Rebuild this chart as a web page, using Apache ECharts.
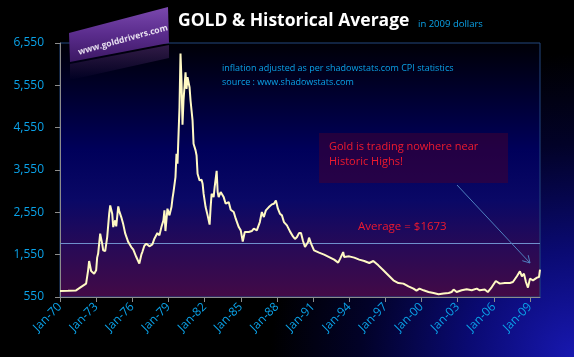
<!DOCTYPE html>
<html>
<head>
<meta charset="utf-8">
<script src="https://cdn.jsdelivr.net/npm/echarts@6/dist/echarts.min.js"></script>
<style>
html,body{margin:0;padding:0;background:#000;}
#c{width:574px;height:357px;}
</style>
</head>
<body>
<div id="c"></div>
<script>
// Months since Jan-1970 and gold price in 2009 dollars
const months = [0,8,16,20,26,28,29,31,34,36,37,38,40,42,43,45,47,49,50,52,53,55,56,58,59,61,63,65,68,71,73,76,79,81,82,84,86,87,89,92,94,97,99,101,103,104,105,107,109,111,112,113,115,116,117,119,120,121,122,123,125,126,127,129,130,132,133,135,136,137,139,141,142,143,145,147,149,150,151,153,154,156,157,158,160,163,165,168,170,173,175,178,180,182,184,188,191,193,196,199,201,203,205,208,211,213,215,217,219,221,223,226,229,232,234,236,238,240,242,244,247,248,250,253,258,263,268,273,277,279,282,283,288,293,298,303,308,312,317,322,327,332,337,342,347,352,355,358,362,367,372,377,382,387,390,392,395,400,405,410,415,418,423,426,430,434,438,443,448,451,455,458,460,462,464,466,468,471,475,477,478];
const gold = [690,695,705,770,866,1180,1400,1163,1100,1180,1480,1575,2046,1810,1652,1635,1966,2518,2714,2518,2202,2360,2218,2690,2580,2438,2266,2046,1848,1730,1668,1494,1338,1550,1612,1760,1810,1841,1747,1794,1928,2060,2006,2202,2360,2596,2108,2636,2478,2674,2872,3028,3382,3935,3698,5034,6300,5664,4620,5192,5860,5467,5742,5506,5192,4720,4170,4013,3894,3462,3304,3320,3226,2990,2674,2478,2260,2674,2990,2910,3146,3530,3028,2910,3028,2910,2754,2793,2612,2557,2400,2202,2124,1860,2085,2085,2108,2164,2124,2320,2557,2438,2596,2674,2738,2754,2832,2636,2518,2478,2320,2242,2100,1980,1920,1966,2060,2060,1872,1730,1848,1952,1810,1652,1598,1550,1494,1433,1362,1456,1612,1494,1510,1480,1433,1400,1353,1400,1298,1180,1062,944,880,866,802,748,700,748,708,668,644,614,630,644,668,725,668,708,732,708,748,708,725,668,786,928,866,880,880,904,1039,1157,1039,1102,904,772,984,944,1008,1022,1197];
const xTickMonths = [0,36,72,108,144,180,216,252,288,324,360,396,432,468];
const xTickLabels = ['Jan-70','Jan-73','Jan-76','Jan-79','Jan-82','Jan-85','Jan-88','Jan-91','Jan-94','Jan-97','Jan-00','Jan-03','Jan-06','Jan-09'];
const yTicks = [550,1550,2550,3550,4550,5550,6550];
const averageLevel = 1825;
const averageText = 'Average = $1673';

const chart = echarts.init(document.getElementById('c'), null, {renderer:'canvas'});
const cyan = '#0aa2e8';
const font = "'Open Sans', 'Noto Sans', sans-serif";

const option = {
  animation: false,
  backgroundColor: 'transparent',
  grid: {
    left: 60, right: 34, top: 43, bottom: 60,
    show: true,
    borderColor: '#23467e',
    borderWidth: 1,
    backgroundColor: {
      type: 'linear', x: 0, y: 0, x2: 0, y2: 1,
      colorStops: [
        {offset: 0, color: '#000006'},
        {offset: 0.42, color: '#00005a'},
        {offset: 0.62, color: '#0a0866'},
        {offset: 0.82, color: '#2a0a55'},
        {offset: 1, color: '#430a46'}
      ]
    }
  },
  xAxis: {
    type: 'value',
    min: 0, max: 478,
    axisLine: {show: true, lineStyle: {color: '#8c8c8c', width: 1}},
    axisTick: {show: true, length: 5, lineStyle: {color: '#8c8c8c'}, customValues: xTickMonths},
    splitLine: {show: false},
    axisLabel: {
      customValues: xTickMonths,
      rotate: 45,
      margin: 8,
      color: cyan,
      fontFamily: font,
      fontSize: 12,
      formatter: v => xTickLabels[xTickMonths.indexOf(v)] || ''
    }
  },
  yAxis: {
    type: 'value',
    min: 550, max: 6550,
    axisLine: {show: true, lineStyle: {color: '#8c8c8c', width: 1}},
    axisTick: {show: true, length: 5, lineStyle: {color: '#8c8c8c'}, customValues: yTicks},
    splitLine: {show: false},
    axisLabel: {
      customValues: yTicks,
      margin: 16,
      color: cyan,
      fontFamily: font,
      fontSize: 12,
      formatter: v => v.toLocaleString('en-US')
    }
  },
  series: [{
    type: 'line',
    data: months.map((m, i) => [m, gold[i]]),
    showSymbol: false,
    lineStyle: {color: '#fff9c4', width: 2},
    z: 5,
    markLine: {
      silent: true,
      symbol: 'none',
      label: {show: false},
      lineStyle: {color: '#6f8fcc', width: 1, type: 'solid'},
      data: [{yAxis: averageLevel}]
    }
  }],
  graphic: [
    {
      type: 'rect', z: -100, silent: true,
      shape: {x: 0, y: 0, width: 574, height: 357},
      style: {
        fill: {
          type: 'radial', x: 1, y: 1, r: 0.85,
          colorStops: [
            {offset: 0, color: '#1818b0'},
            {offset: 0.35, color: '#0a0a72'},
            {offset: 0.7, color: '#020228'},
            {offset: 1, color: '#000000'}
          ]
        }
      }
    },
    {
      type: 'polygon', z: 10, silent: true,
      shape: {points: [[70,64],[169,45],[169,58],[70,80]]},
      style: {
        fill: {
          type: 'linear', x: 0, y: 0, x2: 0, y2: 1,
          colorStops: [{offset: 0, color: 'rgba(110,60,150,0.45)'}, {offset: 1, color: 'rgba(110,60,150,0)'}]
        }
      }
    },
    {
      type: 'polygon', z: 11, silent: true,
      shape: {points: [[69,33],[168,7],[169,43],[70,62]]},
      style: {
        fill: {
          type: 'linear', x: 0, y: 0, x2: 0, y2: 1,
          colorStops: [{offset: 0, color: '#7a48ae'}, {offset: 0.5, color: '#5a2c8c'}, {offset: 1, color: '#3c1864'}]
        }
      }
    },
    {
      type: 'text', z: 12, silent: true,
      x: 123, y: 40, rotation: 0.27,
      style: {
        text: 'www.golddrivers.com',
        fill: '#e8e0f0',
        font: "bold 8.5px 'Open Sans', sans-serif",
        align: 'center', verticalAlign: 'middle'
      }
    },
    {
      type: 'text', z: 12, silent: true,
      left: 178, top: 12,
      style: {
        text: 'GOLD & Historical Average',
        fill: '#ffffff',
        font: "bold 17.5px 'Open Sans', sans-serif"
      }
    },
    {
      type: 'text', z: 12, silent: true,
      left: 418, top: 19,
      style: {text: 'in 2009 dollars', fill: cyan, font: "9.5px 'Open Sans', sans-serif"}
    },
    {
      type: 'text', z: 12, silent: true,
      left: 222, top: 61,
      style: {
        text: 'inflation adjusted as per shadowstats.com CPI statistics\nsource : www.shadowstats.com',
        fill: cyan, font: "9px 'Open Sans', sans-serif", lineHeight: 14
      }
    },
    {
      type: 'rect', z: 8, silent: true,
      shape: {x: 319, y: 133, width: 189, height: 50},
      style: {fill: 'rgba(70,0,45,0.5)'}
    },
    {
      type: 'text', z: 12, silent: true,
      left: 329, top: 139,
      style: {
        text: 'Gold is trading nowhere near\nHistoric Highs!',
        fill: '#f01a2e', font: "11px 'Open Sans', sans-serif", lineHeight: 15.5
      }
    },
    {
      type: 'text', z: 12, silent: true,
      left: 358, top: 221,
      style: {text: averageText, fill: '#f01a2e', font: "11.5px 'Open Sans', sans-serif"}
    },
    {
      type: 'line', z: 12, silent: true,
      shape: {x1: 457, y1: 185, x2: 530, y2: 263},
      style: {stroke: '#4f7fbf', lineWidth: 1}
    },
    {
      type: 'polyline', z: 12, silent: true,
      shape: {points: [[528.2,255.2],[530,263],[522.3,260.7]]},
      style: {stroke: '#4f7fbf', lineWidth: 1, fill: null}
    }
  ]
};
chart.setOption(option);
</script>
</body>
</html>
